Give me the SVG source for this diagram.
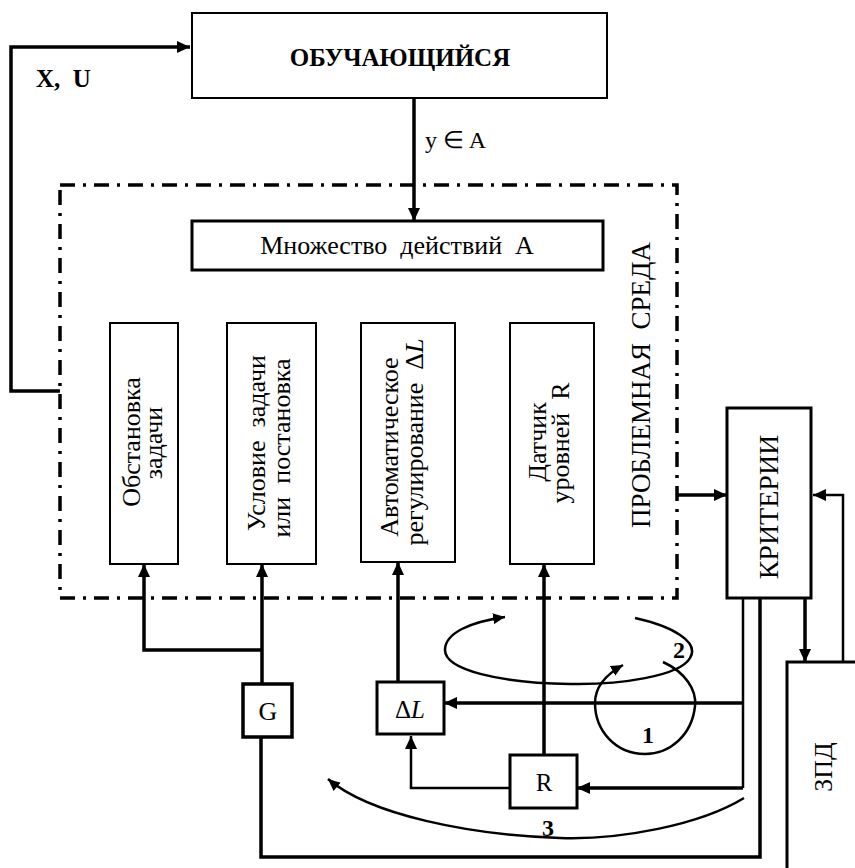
<svg xmlns="http://www.w3.org/2000/svg" width="855" height="868" viewBox="0 0 855 868" xml:space="preserve">
  <style>
    text { font-family: "Liberation Serif", "Times New Roman", serif; fill: #000; white-space: pre; }
    .box { fill: #fff; stroke: #000; stroke-width: 2; }
    .box3 { fill: #fff; stroke: #000; stroke-width: 3.5; }
    .ln { fill: none; stroke: #000; stroke-width: 3.5; }
    .thin { fill: none; stroke: #000; stroke-width: 2.5; }
    .curve { fill: none; stroke: #000; stroke-width: 2.5; }
    .frame { fill: none; stroke: #000; stroke-width: 3.5; stroke-dasharray: 15 8 3 8; }
    .lbl { font-size: 26px; }
    .vt { font-size: 26px; text-anchor: middle; }
    .num { font-size: 24px; font-weight: bold; text-anchor: middle; }
  </style>
  <defs>
    <marker id="ah" markerUnits="userSpaceOnUse" markerWidth="14" markerHeight="14" refX="13" refY="6" orient="auto">
      <path d="M0,0 L13,6 L0,12 z" fill="#000"/>
    </marker>
    <marker id="ahc" markerUnits="userSpaceOnUse" markerWidth="14" markerHeight="14" refX="12" refY="5.5" orient="auto">
      <path d="M0,0 L12,5.5 L0,11 z" fill="#000"/>
    </marker>
  </defs>

  <rect width="855" height="868" fill="#fff"/>

  <!-- problem environment boundary -->
  <g id="environment">
    <rect class="frame" x="60" y="185" width="617" height="413"/>
    <text class="vt" transform="translate(650,385) rotate(-90)" style="font-size:27px">ПРОБЛЕМНАЯ  СРЕДА</text>
  </g>

  <!-- connectors -->
  <g id="connectors">
    <!-- X, U feedback to the learner -->
    <polyline class="ln" points="60,391 11,391 11,47 190,47" marker-end="url(#ah)"/>
    <!-- learner action y in A -->
    <line class="ln" x1="414" y1="98" x2="414" y2="221" marker-end="url(#ah)"/>
    <!-- environment to criteria -->
    <line class="ln" x1="677" y1="495" x2="727" y2="495" marker-end="url(#ah)"/>
    <!-- ZPD back to criteria -->
    <polyline class="thin" points="843,662 843,495 813,495" marker-end="url(#ah)"/>
    <!-- criteria to ZPD -->
    <line class="ln" x1="805" y1="598" x2="805" y2="662" marker-end="url(#ah)"/>
    <!-- criteria feed lines -->
    <line class="thin" x1="743" y1="598" x2="743" y2="788"/>
    <line class="ln" x1="743" y1="703" x2="444" y2="703" marker-end="url(#ah)"/>
    <line class="ln" x1="743" y1="788" x2="577" y2="788" marker-end="url(#ah)"/>
    <!-- G loop from criteria -->
    <polyline class="ln" points="760,598 760,857 261,857 261,737"/>
    <!-- G outputs -->
    <line class="ln" x1="262" y1="684" x2="262" y2="564" marker-end="url(#ah)"/>
    <polyline class="ln" points="262,650 144,650 144,564" marker-end="url(#ah)"/>
    <!-- delta L to regulation -->
    <line class="ln" x1="398" y1="682" x2="398" y2="562" marker-end="url(#ah)"/>
    <!-- R to level sensor -->
    <line class="ln" x1="544" y1="755" x2="544" y2="564" marker-end="url(#ah)"/>
    <!-- R to delta L -->
    <polyline class="thin" points="510,788 411,788 411,736" marker-end="url(#ah)"/>
    <!-- control loops -->
    <path class="curve" d="M 635 618 C 672 626 700 642 690 658 C 680 676 620 685 570 684 C 500 683 445 670 445 650 C 445 633 470 622 505 617" marker-end="url(#ahc)"/>
    <path class="curve" d="M 663 662 C 685 672 697 690 695 706 C 692 735 670 754 645 754 C 615 754 595 730 595 703 C 595 688 605 675 623 665" marker-end="url(#ahc)"/>
    <path class="curve" d="M 744 798 C 700 825 620 840 560 838 C 470 835 370 815 328 779" marker-end="url(#ahc)"/>
    <text class="num" x="679" y="658">2</text>
    <text class="num" x="648" y="743">1</text>
    <text class="num" x="548" y="836">3</text>
    <text class="lbl" x="36" y="87" style="font-weight:bold;font-size:25px">X,  U</text>
    <text class="lbl" x="425" y="148" style="font-size:24px">y ∈ A</text>
  </g>

  <g id="learner">
    <rect class="box" x="192" y="13" width="415" height="85"/>
    <text x="400" y="66" text-anchor="middle" style="font-size:25px;font-weight:bold">ОБУЧАЮЩИЙСЯ</text>
  </g>

  <g id="actions">
    <rect class="box" x="192" y="221" width="411" height="49" style="stroke-width:3"/>
    <text class="lbl" x="397" y="254" text-anchor="middle">Множество  действий  А</text>
  </g>

  <g id="setting">
    <rect class="box" x="110" y="323" width="68" height="241"/>
    <text class="vt" transform="translate(140,442) rotate(-90)">Обстановка</text>
    <text class="vt" transform="translate(162,443) rotate(-90)">задачи</text>
  </g>

  <g id="condition">
    <rect class="box" x="227" y="323" width="89" height="241"/>
    <text class="vt" transform="translate(265,443) rotate(-90)">Условие  задачи</text>
    <text class="vt" transform="translate(290,448) rotate(-90)">или  постановка</text>
  </g>

  <g id="regulation">
    <rect class="box" x="361" y="323" width="94" height="239"/>
    <text class="vt" transform="translate(398,447) rotate(-90)">Автоматическое</text>
    <text class="vt" transform="translate(423,442) rotate(-90)">регулирование  Δ<tspan font-style="italic">L</tspan></text>
  </g>

  <g id="sensor">
    <rect class="box" x="510" y="323" width="84" height="241"/>
    <text class="vt" transform="translate(546,442) rotate(-90)">Датчик</text>
    <text class="vt" transform="translate(569,443) rotate(-90)">уровней  R</text>
  </g>

  <g id="criteria">
    <rect class="box3" x="727" y="408" width="84" height="190" style="stroke-width:3"/>
    <text class="vt" transform="translate(778,507) rotate(-90)" style="font-size:28px">КРИТЕРИИ</text>
  </g>

  <g id="zpd">
    <rect class="box3" x="787" y="662" width="80" height="220" style="stroke-width:3"/>
    <text class="vt" transform="translate(832,767) rotate(-90)">ЗПД</text>
  </g>

  <g id="g-node">
    <rect class="box3" x="243" y="684" width="49" height="53"/>
    <text class="lbl" x="268" y="720" text-anchor="middle">G</text>
  </g>

  <g id="dl-node">
    <rect class="box3" x="377" y="682" width="67" height="52" style="stroke-width:3"/>
    <text class="lbl" x="410" y="718" text-anchor="middle" style="font-size:25px">Δ<tspan font-style="italic">L</tspan></text>
  </g>

  <g id="r-node">
    <rect class="box3" x="510" y="755" width="67" height="53" style="stroke-width:3"/>
    <text class="lbl" x="544" y="791" text-anchor="middle" style="font-size:25px">R</text>
  </g>
</svg>
